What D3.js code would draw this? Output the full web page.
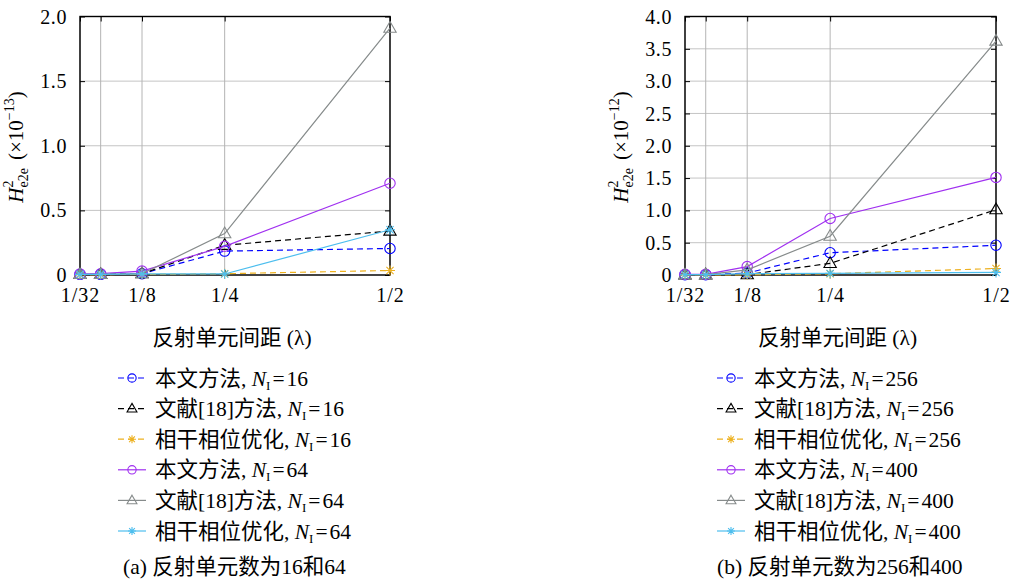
<!DOCTYPE html>
<html><head><meta charset="utf-8">
<script src="https://cdn.jsdelivr.net/npm/d3@7/dist/d3.min.js"></script>
<style>
body{margin:0;background:#fff;}
svg text{font-family:"Liberation Serif","Noto Sans CJK SC",serif;fill:#000;}
</style></head><body>
<svg id="c" width="1016" height="579"></svg>
<script>
// ---- data ----
const xValues = [1/32, 1/16, 1/8, 1/4, 1/2];
const xTickValues = [1/32, 1/16, 1/8, 1/4, 1/2];
const xTickLabels = ["1/32", "", "1/8", "1/4", "1/2"];

const yTicksA = [0, 0.5, 1.0, 1.5, 2.0];
const yTickLabelsA = ["0", "0.5", "1.0", "1.5", "2.0"];
const yTicksB = [0, 0.5, 1.0, 1.5, 2.0, 2.5, 3.0, 3.5, 4.0];
const yTickLabelsB = ["0", "0.5", "1.0", "1.5", "2.0", "2.5", "3.0", "3.5", "4.0"];

const methodNames = ["本文方法", "文献[18]方法", "相干相位优化", "本文方法", "文献[18]方法", "相干相位优化"];
const nA = [16, 16, 16, 64, 64, 64];
const nB = [256, 256, 256, 400, 400, 400];

// panel (a), units 1e-13
const oursN16  = [0.005, 0.005, 0.010, 0.185, 0.205];
const refN16   = [0.004, 0.004, 0.010, 0.230, 0.340];
const cohN16   = [0.003, 0.003, 0.005, 0.010, 0.035];
const oursN64  = [0.008, 0.010, 0.030, 0.222, 0.710];
const refN64   = [0.005, 0.005, 0.010, 0.320, 1.910];
const cohN64   = [0.005, 0.005, 0.008, 0.008, 0.350];

// panel (b), units 1e-12
const oursN256 = [0.005, 0.005, 0.030, 0.345, 0.460];
const refN256  = [0.003, 0.003, 0.005, 0.180, 1.010];
const cohN256  = [0.002, 0.002, 0.003, 0.020, 0.100];
const oursN400 = [0.010, 0.010, 0.130, 0.875, 1.510];
const refN400  = [0.005, 0.005, 0.080, 0.600, 3.620];
const cohN400  = [0.005, 0.005, 0.020, 0.025, 0.040];

const xAxisTitle = "反射单元间距 (λ)";
const captions = ["(a) 反射单元数为16和64", "(b) 反射单元数为256和400"];
const exponents = ["−13", "−12"];

// ---- styles ----
const seriesColors = ["#0000ff", "#000000", "#EDB120", "#a030f0", "#868b8b", "#4DBEEE"];
const seriesDash = ["6,4", "6,4", "6,4", null, null, null];
const seriesMarker = ["circle", "triangle", "star", "circle", "triangle", "star"];

const svg = d3.select("#c");

function drawMarker(g, type, cx, cy, color, scale) {
  const s = scale || 1;
  if (type === "circle") {
    g.append("circle").attr("cx", cx).attr("cy", cy).attr("r", 5.2 * s)
      .attr("fill", "none").attr("stroke", color).attr("stroke-width", 1.1);
  } else if (type === "triangle") {
    g.append("path").attr("d", d3.symbol(d3.symbolTriangle, 66 * s * s)())
      .attr("transform", `translate(${cx},${cy + 0.5})`)
      .attr("fill", "none").attr("stroke", color).attr("stroke-width", 1.1);
  } else {
    const r = 5 * s, d = r * 0.72;
    const p = `M${cx - r},${cy}L${cx + r},${cy}M${cx},${cy - r}L${cx},${cy + r}` +
      `M${cx - d},${cy - d}L${cx + d},${cy + d}M${cx - d},${cy + d}L${cx + d},${cy - d}`;
    g.append("path").attr("d", p).attr("fill", "none").attr("stroke", color).attr("stroke-width", 1.1);
  }
}

const panels = [
  { x0: 80, x1: 390, yMax: 2.0, yTicks: yTicksA, yLabels: yTickLabelsA,
    series: [oursN16, refN16, cohN16, oursN64, refN64, cohN64], ns: nA,
    legendX: 118, captionX: 123, ylabelX: 23, exp: exponents[0], caption: captions[0] },
  { x0: 685, x1: 996, yMax: 4.0, yTicks: yTicksB, yLabels: yTickLabelsB,
    series: [oursN256, refN256, cohN256, oursN400, refN400, cohN400], ns: nB,
    legendX: 717, captionX: 717, ylabelX: 628, exp: exponents[1], caption: captions[1] }
];

const yTop = 16.5, yBot = 275;
const FS = 21.5;

panels.forEach(P => {
  const g = svg.append("g");
  const x = d3.scaleLinear().domain([1/32, 1/2]).range([P.x0, P.x1]);
  const y = d3.scaleLinear().domain([0, P.yMax]).range([yBot, yTop]);

  // grid
  g.append("g").selectAll("line").data(P.yTicks).join("line")
    .attr("x1", P.x0).attr("x2", P.x1).attr("y1", d => y(d)).attr("y2", d => y(d))
    .attr("stroke", "#c4c4c4").attr("stroke-width", 1);
  g.append("g").selectAll("line").data(xTickValues).join("line")
    .attr("x1", d => x(d)).attr("x2", d => x(d)).attr("y1", yTop).attr("y2", yBot)
    .attr("stroke", "#b4b4b4").attr("stroke-width", 1);

  // axes via d3
  const yAxisL = d3.axisLeft(y).tickValues(P.yTicks).tickSize(-5).tickFormat((d, i) => P.yLabels[i]).tickPadding(13);
  const gy = g.append("g").attr("transform", `translate(${P.x0},0)`).call(yAxisL);
  gy.select(".domain").remove();
  gy.selectAll("line").attr("stroke", "#000").attr("stroke-width", 1);
  gy.selectAll("text").attr("font-size", 20).attr("dy", "0.33em").attr("letter-spacing", 0.6)
    .style("font-family", "'Liberation Serif',serif");
  const yAxisR = d3.axisRight(y).tickValues(P.yTicks).tickSize(-5).tickFormat("");
  const gyr = g.append("g").attr("transform", `translate(${P.x1},0)`).call(yAxisR);
  gyr.select(".domain").remove();
  gyr.selectAll("line").attr("stroke", "#000");

  const xAxisB = d3.axisBottom(x).tickValues(xTickValues).tickSize(-5).tickFormat((d, i) => xTickLabels[i]).tickPadding(19);
  const gx = g.append("g").attr("transform", `translate(0,${yBot})`).call(xAxisB);
  gx.select(".domain").remove();
  gx.selectAll("line").attr("stroke", "#000");
  gx.selectAll("text").attr("font-size", 20).attr("dy", "0.42em").attr("letter-spacing", 1)
    .style("font-family", "'Liberation Serif',serif");
  const xAxisT = d3.axisTop(x).tickValues(xTickValues).tickSize(-5).tickFormat("");
  const gxt = g.append("g").attr("transform", `translate(0,${yTop})`).call(xAxisT);
  gxt.select(".domain").remove();
  gxt.selectAll("line").attr("stroke", "#000");

  // frame
  g.append("rect").attr("x", P.x0).attr("y", yTop).attr("width", P.x1 - P.x0).attr("height", yBot - yTop)
    .attr("fill", "none").attr("stroke", "#000").attr("stroke-width", 1.4);

  // series
  const line = d3.line().x((d, i) => x(xValues[i])).y(d => y(d));
  P.series.forEach((vals, si) => {
    const sg = g.append("g");
    sg.append("path").datum(vals).attr("d", line)
      .attr("fill", "none").attr("stroke", seriesColors[si]).attr("stroke-width", 1.2)
      .attr("stroke-dasharray", seriesDash[si]);
    vals.forEach((v, i) => drawMarker(sg, seriesMarker[si], x(xValues[i]), y(v), seriesColors[si], 1));
  });

  // y label
  const yl = g.append("text").attr("transform", `translate(${P.ylabelX},147) rotate(-90)`)
    .attr("text-anchor", "middle").attr("font-size", 21);
  yl.append("tspan").attr("font-style", "italic").text("H");
  yl.append("tspan").attr("font-size", 14).attr("dy", -10).text("2");
  yl.append("tspan").attr("font-size", 14).attr("dx", -7).attr("dy", 15).text("e2e");
  yl.append("tspan").attr("dx", 8).attr("dy", -5).text("(×10");
  yl.append("tspan").attr("font-size", 14).attr("dy", -9).text(P.exp);
  yl.append("tspan").attr("dy", 9).text(")");

  // x title
  g.append("text").attr("x", (P.x0 + P.x1) / 2 - 3).attr("y", 345).attr("text-anchor", "middle")
    .attr("font-size", FS).text(xAxisTitle);

  // legend
  const lx0 = P.legendX, lx1 = P.legendX + 28, lmx = P.legendX + 14;
  methodNames.forEach((name, i) => {
    const cy = 378 + i * 30.6;
    const lg = g.append("g");
    lg.append("line").attr("x1", lx0).attr("x2", lx1).attr("y1", cy).attr("y2", cy)
      .attr("stroke", seriesColors[i]).attr("stroke-width", 1.2)
      .attr("stroke-dasharray", seriesDash[i] ? "6,4" : null);
    drawMarker(lg, seriesMarker[i], lmx, cy, seriesColors[i], 0.8);
    const t = lg.append("text").attr("x", lx0 + 37).attr("y", cy + 7.5).attr("font-size", FS);
    t.append("tspan").text(name + ", ");
    t.append("tspan").attr("font-style", "italic").text("N");
    t.append("tspan").attr("font-size", 13).attr("dy", 4).text("I");
    t.append("tspan").attr("dx", 2).attr("dy", -4).text("=");
    t.append("tspan").attr("dx", 2).text(P.ns[i]);
  });

  // caption
  g.append("text").attr("x", P.captionX).attr("y", 573.5).attr("font-size", FS).text(P.caption);
});
</script>
</body></html>
